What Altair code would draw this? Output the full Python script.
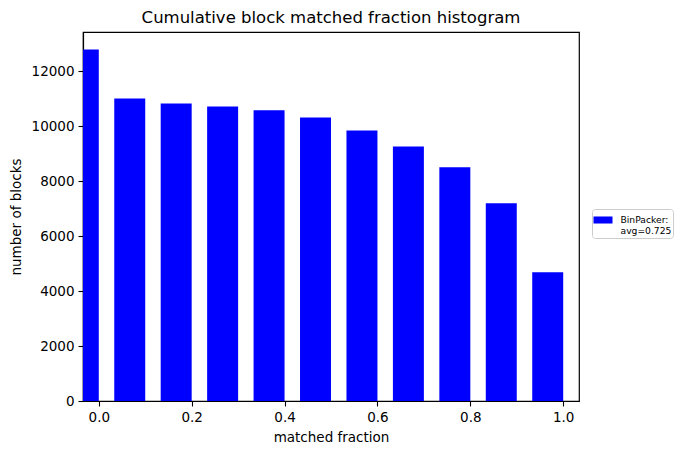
import altair as alt
import pandas as pd

bin_right = [0.0, 0.1, 0.2, 0.3, 0.4, 0.5, 0.6, 0.7, 0.8, 0.9, 1.0]
bar_width = 0.0667
counts = [12780, 11000, 10820, 10710, 10570, 10310, 9840, 9260, 8500, 7190, 4680]
series_label = "BinPacker:|avg=0.725"

df = pd.DataFrame({
    "right": bin_right,
    "left": [r - bar_width for r in bin_right],
    "count": counts,
    "series": [series_label] * len(counts),
})

FONT = "DejaVu Sans"

bars = alt.Chart(df).mark_bar(clip=True, color="blue").encode(
    x=alt.X("left:Q",
            scale=alt.Scale(domain=[-0.034, 1.034], nice=False, zero=False),
            axis=alt.Axis(values=[0.0, 0.2, 0.4, 0.6, 0.8, 1.0], format=".1f",
                          title="matched fraction")),
    x2="right:Q",
    y=alt.Y("count:Q",
            scale=alt.Scale(domain=[0, 13420], nice=False),
            axis=alt.Axis(values=[0, 2000, 4000, 6000, 8000, 10000, 12000], format="d",
                          title="number of blocks")),
    y2=alt.datum(0),
    color=alt.Color("series:N", scale=alt.Scale(range=["blue"]),
                    legend=alt.Legend(
                        title=None, orient="none", legendX=509, legendY=177,
                        labelExpr="split(datum.label, '|')",
                        labelFont=FONT, labelFontSize=9.2, labelColor="black",
                        labelLimit=200, labelOffset=8,
                        symbolType="M-1,-0.37H1V0.37H-1Z", symbolSize=361,
                        symbolStrokeWidth=0, symbolOpacity=1,
                        strokeColor="#cccccc", cornerRadius=3, padding=1.5,
                        fillColor="white",
                    )),
)

chart = bars.properties(
    width=496, height=369,
    title=alt.TitleParams("Cumulative block matched fraction histogram",
                          font=FONT, fontSize=16.5, fontWeight="normal",
                          color="black", anchor="middle", offset=6),
    autosize=alt.AutoSizeParams(type="none"),
    padding={"left": 75, "top": 24, "right": 100, "bottom": 46},
).configure_view(
    stroke="black", strokeWidth=1.2
).configure_axis(
    grid=False, domainColor="black", tickColor="black", labelColor="black",
    titleColor="black", labelFont=FONT, titleFont=FONT, labelFontSize=13.5,
    titleFontSize=13.5, titleFontWeight="normal", tickSize=5, labelPadding=4,
    domainWidth=1.2, tickWidth=1.1,
).configure_axisX(
    titlePadding=7,
).configure_axisY(
    titlePadding=8,
)

chart.save("out.html", embed_options={"renderer": "svg", "actions": False})
